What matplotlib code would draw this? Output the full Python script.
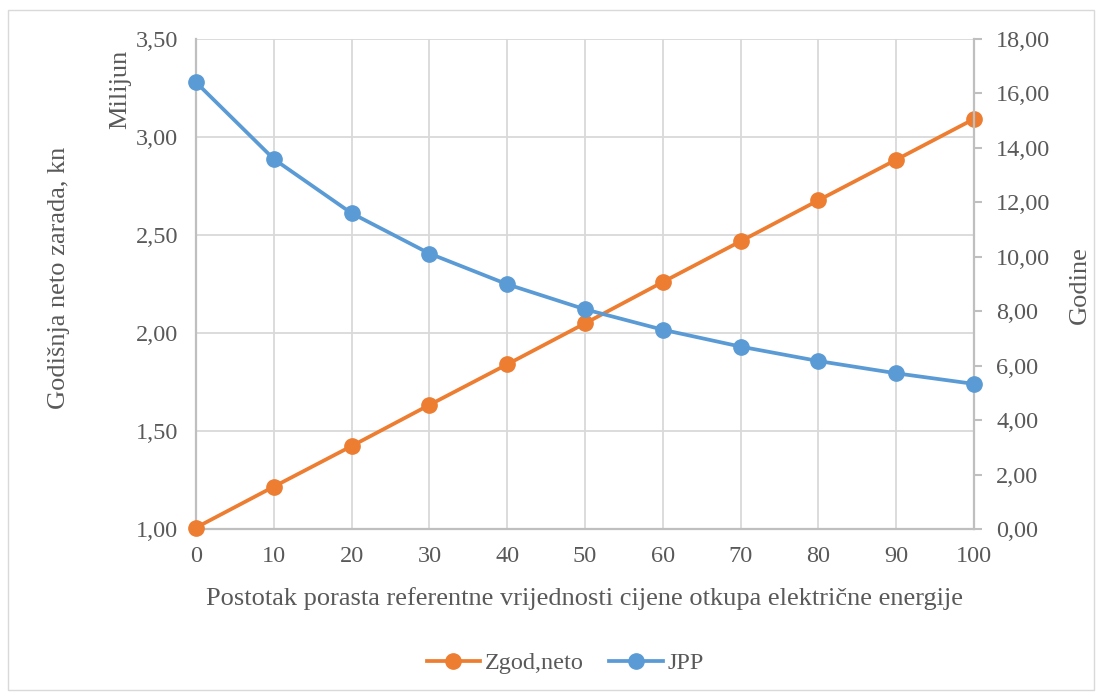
import matplotlib
matplotlib.use('Agg')
import matplotlib.pyplot as plt
from matplotlib.patches import Rectangle

# data
postotak = [0, 10, 20, 30, 40, 50, 60, 70, 80, 90, 100]
zgod_neto = [1.007, 1.216, 1.423, 1.633, 1.840, 2.049, 2.260, 2.468, 2.677, 2.884, 3.092]
jpp = [16.41, 13.59, 11.60, 10.12, 8.99, 8.07, 7.32, 6.70, 6.17, 5.72, 5.33]

left_ticks = [1.0, 1.5, 2.0, 2.5, 3.0, 3.5]
right_ticks = [0, 2, 4, 6, 8, 10, 12, 14, 16, 18]

orange = '#ed7d31'
blue = '#5b9bd5'
grid_col = '#d9d9d9'
axis_col = '#bfbfbf'
text_col = '#595959'

plt.rcParams['font.family'] = ['Liberation Serif', 'DejaVu Serif']

W, H = 1102, 694
x0, x1, y0, y1 = 196, 974, 529, 39
fig = plt.figure(figsize=(W / 100, H / 100), dpi=100)
ax = fig.add_axes([x0 / W, 1 - y0 / H, (x1 - x0) / W, (y0 - y1) / H])
ax2 = ax.twinx()

# outer chart border
fig.patches.append(Rectangle((8 / W, 4 / H), (W - 16) / W, (H - 14) / H,
                             transform=fig.transFigure, fill=False,
                             edgecolor=grid_col, linewidth=1))

l1, = ax.plot(postotak, zgod_neto, color=orange, lw=2.7, marker='o', ms=11,
              label='Zgod,neto', zorder=3, clip_on=False)
l2, = ax2.plot(postotak, jpp, color=blue, lw=2.7, marker='o', ms=11,
               label='JPP', zorder=3, clip_on=False)

ax.set_xlim(0, 100)
ax.set_ylim(1.0, 3.5)
ax2.set_ylim(0, 18)
ax.set_xticks(postotak)
ax.set_yticks(left_ticks)
ax2.set_yticks(right_ticks)
ax.set_yticklabels([f'{v:.2f}'.replace('.', ',') for v in left_ticks])
ax2.set_yticklabels([f'{v:.2f}'.replace('.', ',') for v in right_ticks])

ax.grid(True, color=grid_col, lw=1.3)
ax.set_axisbelow(True)

for a in (ax, ax2):
    for s in a.spines.values():
        s.set_visible(False)
ax.spines['left'].set_visible(True)
ax.spines['bottom'].set_visible(True)
ax2.spines['right'].set_visible(True)
for s in ('left', 'bottom'):
    ax.spines[s].set_color(axis_col)
    ax.spines[s].set_linewidth(1.6)
ax2.spines['right'].set_color(axis_col)
ax2.spines['right'].set_linewidth(1.6)

ax.tick_params(axis='y', length=0, labelsize=17.5, labelcolor=text_col, pad=13)
ax.tick_params(axis='x', length=0, labelsize=17.5, labelcolor=text_col, pad=12)
ax2.tick_params(axis='y', length=6, width=1.5, color=axis_col, labelsize=17.5,
                labelcolor=text_col, pad=10)

ax.set_xlabel('Postotak porasta referentne vrijednosti cijene otkupa električne energije',
              fontsize=19, color=text_col)
ax.xaxis.set_label_coords(0.5, (y0 - 587) / (y0 - y1))
ax.set_ylabel('Godišnja neto zarada, kn', fontsize=19, color=text_col)
ax.yaxis.set_label_coords((70 - x0) / (x1 - x0), (y0 - 278) / (y0 - y1))
ax2.set_ylabel('Godine', fontsize=19, color=text_col)
ax2.yaxis.set_label_coords((1069 - x0) / (x1 - x0), (y0 - 285) / (y0 - y1))
fig.text(120 / W, 1 - 89 / H, 'Milijun', rotation=90, ha='center', va='center',
         fontsize=19, color=text_col)

fig.legend(handles=[l1, l2], loc='center', bbox_to_anchor=(0.513, 1 - 663 / H),
           ncol=2, frameon=False, fontsize=17.5, labelcolor=text_col,
           handlelength=2.2, columnspacing=1.05, handletextpad=0.2)

fig.savefig('out.png', dpi=100)
